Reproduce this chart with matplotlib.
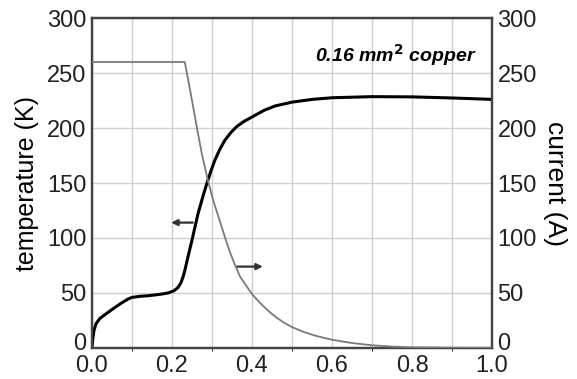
import matplotlib
matplotlib.use("Agg")
import matplotlib.pyplot as plt
import matplotlib.transforms as mtransforms
from matplotlib.ticker import MultipleLocator

plt.rcParams['font.family'] = ['Liberation Sans', 'DejaVu Sans']

# temperature of the wire (K) vs time
t_time = [0, 0.002, 0.005, 0.01, 0.02, 0.035, 0.05, 0.07, 0.09, 0.1, 0.12,
          0.14, 0.17, 0.19, 0.205, 0.215, 0.222, 0.228, 0.2325, 0.24, 0.25,
          0.265, 0.2775, 0.2875, 0.2975, 0.3075, 0.32, 0.3325, 0.3475,
          0.3625, 0.38, 0.4, 0.43, 0.4575, 0.5, 0.55, 0.6, 0.7, 0.8, 0.9, 1.0]
temperature = [0, 8, 16, 22, 27, 31, 35, 40, 44.5, 46, 47,
               47.5, 48.8, 50, 52, 55, 59, 65, 71, 83, 98,
               122, 138, 150, 161, 171, 181, 189, 196,
               201.5, 206, 210, 216, 220, 223.5, 226, 227.5, 228.5, 228.3,
               227.3, 226]

# current (A) vs time
i_time = [0, 0.232, 0.245, 0.255, 0.265, 0.275, 0.29, 0.305, 0.32, 0.333,
          0.345, 0.357, 0.37, 0.385, 0.4, 0.42, 0.44, 0.46, 0.48, 0.5, 0.53,
          0.56, 0.6, 0.65, 0.7, 0.75, 0.8, 0.9, 1.0]
current = [260, 260, 235, 215, 195, 176, 152, 132, 115, 100,
           87, 76, 65, 57, 49, 41, 34, 28, 23, 19, 14.5,
           11, 7.5, 4.5, 2.5, 1.3, 0.6, 0.2, 0]

fig = plt.figure(figsize=(5.77, 3.79), dpi=100)
ax = fig.add_axes([0.1594, 0.0818, 0.6933, 0.8707])
ax2 = ax.twinx()

ax.plot(t_time, temperature, color='black', lw=2.2, zorder=3,
        solid_joinstyle='round')
ax2.plot(i_time, current, color='#7a7a7a', lw=1.3, zorder=3)

for a in (ax, ax2):
    a.set_xlim(0, 1.0)
    a.set_ylim(0, 300)
    a.yaxis.set_major_locator(MultipleLocator(50))
    a.tick_params(length=0, labelsize=17, pad=4, colors='#222222')
    for s in a.spines.values():
        s.set_color('#444444')
        s.set_linewidth(1.6)

ax.xaxis.set_major_locator(MultipleLocator(0.2))
ax.xaxis.set_minor_locator(MultipleLocator(0.1))
ax.xaxis.set_major_formatter(plt.FuncFormatter(lambda v, p: f"{v:.1f}"))
ax.grid(True, which='both', axis='x', color='#cfcfcf', lw=1.0)
ax.grid(True, which='major', axis='y', color='#cfcfcf', lw=1.0)
ax.set_axisbelow(True)
ax.tick_params(axis='x', pad=5)

ax.set_ylabel('temperature (K)', fontsize=18, labelpad=6)
ax2.set_ylabel('current (A)', fontsize=19, rotation=270, labelpad=22)

ax.text(0.962, 266, r'0.16 mm$^\mathbf{2}$ copper', fontsize=14,
        fontweight='bold', fontstyle='italic', ha='right', va='center')

arrow = dict(arrowstyle='-|>', color='#333333', lw=1.6, mutation_scale=9,
             shrinkA=0, shrinkB=0)
ax.annotate('', xy=(0.198, 114), xytext=(0.252, 114), arrowprops=arrow)
ax.annotate('', xy=(0.427, 74), xytext=(0.363, 74), arrowprops=arrow)

# lift the two "0" labels a little so they clear the x labels
fig.canvas.draw()
lift = mtransforms.ScaledTranslation(0, 5 / 72, fig.dpi_scale_trans)
for a in (ax, ax2):
    for tick in a.yaxis.get_major_ticks():
        if tick.get_loc() == 0:
            for lab in (tick.label1, tick.label2):
                lab.set_transform(lab.get_transform() + lift)

fig.savefig('out.png', dpi=100)
